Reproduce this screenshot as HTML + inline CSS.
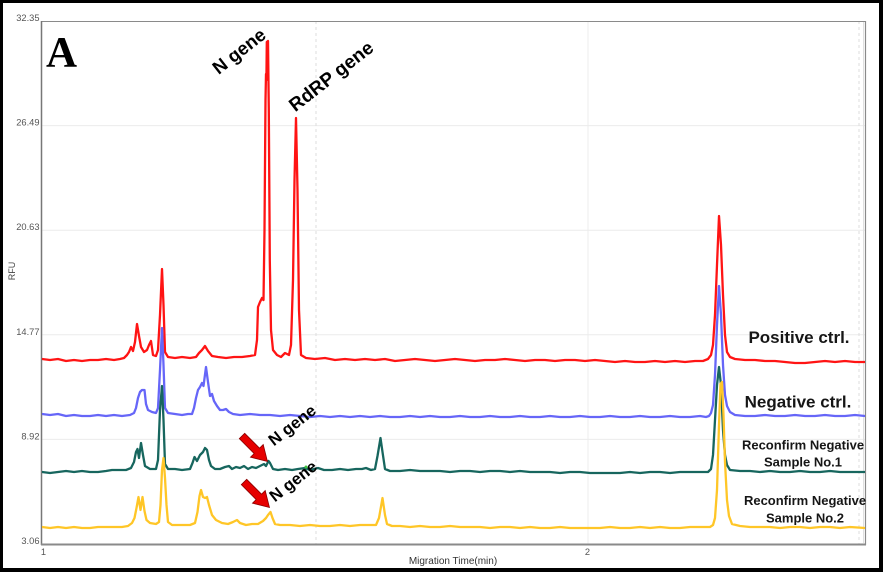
<!DOCTYPE html>
<html><head><meta charset="utf-8"><style>
html,body{margin:0;padding:0;background:#fff;}
svg{display:block;}
</style></head><body>
<svg width="883" height="572" viewBox="0 0 883 572" xmlns="http://www.w3.org/2000/svg">
<rect x="0" y="0" width="883" height="572" fill="#000"/>
<rect x="3" y="3" width="876" height="565" fill="#fff"/>
<defs><clipPath id="pc"><rect x="42" y="21" width="823" height="523"/></clipPath></defs>
<!-- grid -->
<g stroke="#ececec" stroke-width="1">
<line x1="42" y1="125.6" x2="865" y2="125.6"/>
<line x1="42" y1="230.2" x2="865" y2="230.2"/>
<line x1="42" y1="334.8" x2="865" y2="334.8"/>
<line x1="42" y1="439.4" x2="865" y2="439.4"/>
<line x1="588" y1="21" x2="588" y2="544"/>
</g>
<g stroke="#dedede" stroke-width="1" stroke-dasharray="3,3">
<line x1="316" y1="21" x2="316" y2="544"/>
<line x1="859" y1="21" x2="859" y2="544"/>
</g>
<!-- frame -->
<line x1="41" y1="21.5" x2="866" y2="21.5" stroke="#8a8a8a" stroke-width="1"/>
<line x1="865.5" y1="21" x2="865.5" y2="545" stroke="#8a8a8a" stroke-width="1.2"/>
<line x1="863.5" y1="22" x2="863.5" y2="543" stroke="#e0e0e0" stroke-width="1"/>
<line x1="41.5" y1="21" x2="41.5" y2="545" stroke="#777" stroke-width="1.5"/>
<line x1="41" y1="544.5" x2="866" y2="544.5" stroke="#8a8a8a" stroke-width="2"/>
<!-- tick labels -->
<g font-family="Liberation Sans, sans-serif" font-size="9.3" fill="#555" text-anchor="end">
<text x="39.5" y="21">32.35</text>
<text x="39.5" y="125.6">26.49</text>
<text x="39.5" y="230.2">20.63</text>
<text x="39.5" y="334.8">14.77</text>
<text x="39.5" y="439.4">8.92</text>
<text x="39.5" y="544">3.06</text>
</g>
<g font-family="Liberation Sans, sans-serif" font-size="9.3" fill="#555" text-anchor="middle">
<text x="43.5" y="555">1</text>
<text x="587.5" y="555">2</text>
</g>
<text x="453" y="564" font-family="Liberation Sans, sans-serif" font-size="10" fill="#333" text-anchor="middle">Migration Time(min)</text>
<text transform="translate(15,271) rotate(-90)" font-family="Liberation Sans, sans-serif" font-size="9" fill="#444" text-anchor="middle">RFU</text>

<g clip-path="url(#pc)" fill="none" stroke-width="2.3" stroke-linejoin="round" stroke-linecap="round">
<!-- red -->
<path stroke="#ff1414" d="M42,359 L50,360 L58,359 L66,361 L74,360 L82,361 L90,360 L98,360 L106,359 L114,360 L120,359 L124,358 L127,355 L129,352 L131,347 L133,351 L135,342 L137,324 L139,336 L141,347 L144,352 L147,350 L149,345 L151,341 L153,355 L156,356 L158,350 L160,315 L162,269 L163.5,305 L165,352 L168,357 L175,358 L182,357 L190,358 L196,357 L199,353 L202,350 L205,346 L208,351 L212,356 L218,357 L226,358 L234,357 L242,357 L250,356 L255,355 L257,340 L258,307 L260,302 L262,298 L263.5,300 L264.5,230 L265.5,100 L266,74 L266.4,80 L266.8,42 L268,41 L268.8,110 L269.8,260 L271,330 L273,350 L277,355 L281,357 L285,353 L289,355 L291,345 L293,280 L294.5,180 L296,118 L297.5,190 L299,310 L301,355 L306,358 L315,359 L325,358 L335,360 L345,359 L355,360 L365,359 L375,360 L385,359 L395,361 L405,360 L415,359 L425,360 L435,361 L445,360 L455,359 L465,360 L475,361 L485,360 L495,360 L505,359 L515,360 L525,361 L535,360 L545,360 L555,361 L565,360 L575,360 L585,361 L595,360 L605,361 L615,362 L625,361 L635,362 L645,362 L655,361 L665,362 L675,361 L685,362 L695,361 L703,361 L708,359 L711,355 L713,345 L715,315 L717,265 L719,216 L721,245 L723,295 L725,335 L727,352 L730,357 L735,359 L745,360 L755,360 L765,361 L775,361 L785,362 L795,363 L805,363 L815,362 L825,361 L835,362 L845,361 L855,362 L865,362"/>
<!-- blue -->
<path stroke="#6666f8" d="M42,414 L50,415 L58,414 L66,416 L74,415 L82,416 L90,416 L98,415 L106,416 L114,415 L122,416 L130,415 L134,413 L136,408 L138,398 L140,392 L142,390 L144.5,390 L146,404 L148,410 L152,412 L156,413 L158,408 L160,370 L162,328 L163.5,365 L165,408 L168,413 L175,414 L182,415 L188,414 L192,414 L194,408 L196,398 L198,390 L200,387 L202,383 L203.5,386 L206,367 L208,382 L210,396 L212,394 L214,401 L217,406 L220,410 L223,410 L226,409 L229,412 L233,414 L240,415 L250,414 L260,415 L270,415 L280,416 L290,415 L300,416 L310,417 L320,416 L330,417 L340,416 L350,417 L360,416 L370,417 L380,416 L390,417 L400,417 L410,416 L420,417 L430,416 L440,417 L450,417 L460,416 L470,417 L480,417 L490,416 L500,417 L510,417 L520,416 L530,417 L540,417 L550,416 L560,417 L570,417 L580,416 L590,417 L600,417 L610,416 L620,417 L630,417 L640,416 L650,417 L660,417 L670,416 L680,417 L690,417 L700,416 L706,417 L709,416 L711,413 L713,405 L715,375 L717,325 L719,286 L721,315 L723,365 L725,395 L727,406 L730,412 L735,415 L745,416 L755,416 L765,415 L775,416 L785,416 L795,415 L805,416 L815,416 L825,415 L835,416 L845,416 L855,415 L865,416"/>
<!-- teal -->
<path stroke="#17665e" d="M42,472 L50,473 L58,472 L66,471 L74,472 L82,471 L90,472 L98,472 L106,471 L112,470 L120,470 L126,470 L131,468 L134,462 L136,452 L137.5,449 L139,458 L141,443 L143,455 L145,466 L150,469 L156,469 L158,460 L160,410 L162,386 L163.5,420 L165,464 L168,469 L175,469 L182,470 L190,469 L192.5,463 L194.5,457 L197,461 L200,455 L203,452 L205,448 L207,450 L209,460 L211,466 L215,469 L220,469 L225,467 L229,466 L232,469 L236,467 L240,468 L244,466 L248,469 L252,467 L256,468 L260,466 L264,464 L266,466 L268.5,461 L270,463 L273,469 L278,470 L285,469 L292,470 L298,469 L305,468 L310,470 L318,468 L324,470 L332,470 L340,469 L348,470 L356,469 L362,469 L366,468 L371,470 L375,469 L377.5,456 L380.5,438 L382.5,452 L385,469 L390,471 L400,471 L410,470 L420,471 L430,471 L440,471 L450,472 L460,471 L470,471 L480,472 L490,471 L500,471 L510,472 L520,471 L530,472 L540,472 L550,472 L560,473 L570,472 L580,472 L590,473 L600,473 L610,473 L620,473 L630,472 L640,473 L650,472 L660,472 L670,473 L680,472 L690,472 L700,472 L708,472 L711,469 L713,455 L715,420 L717,385 L719,367 L721,385 L723,430 L725,455 L727,465 L730,470 L740,471 L750,471 L760,472 L770,471 L780,472 L790,472 L800,471 L810,472 L820,472 L830,471 L840,472 L850,472 L865,472"/>
<!-- yellow -->
<path stroke="#ffc627" d="M42,527 L50,528 L58,527 L66,528 L74,527 L82,528 L90,528 L98,527 L106,527 L114,527 L122,527 L128,526 L132,523 L134.5,518 L136.5,508 L138.5,497 L140.5,510 L142.5,497 L144.5,511 L146.5,520 L150,523 L156,524 L159,522 L160.5,505 L162,470 L163.5,458 L165,478 L166.5,505 L168,522 L172,525 L180,525 L190,525 L195,523 L197.5,512 L199.5,496 L201,490 L203,497 L205,498 L207,497 L209,505 L212,515 L216,520 L222,523 L228,524 L233,522 L237,520 L240,523 L246,525 L252,524 L258,524 L263,521 L266,518 L268,515 L270.5,512 L272.5,518 L275,524 L280,525 L290,525 L300,526 L310,525 L320,526 L330,526 L340,525 L350,526 L360,525 L370,525 L376,525 L379,518 L382.5,498 L385,515 L387,524 L392,526 L400,526 L410,527 L420,526 L430,527 L440,527 L450,526 L460,527 L470,527 L480,527 L490,528 L500,527 L510,527 L520,528 L530,527 L540,528 L550,528 L560,527 L570,528 L580,528 L590,528 L600,528 L610,527 L620,528 L630,528 L640,527 L650,528 L660,527 L670,528 L680,528 L690,527 L700,527 L710,527 L713,525 L715,518 L717,490 L719,425 L720.5,384 L722,382 L723.5,415 L725,462 L727,500 L729,516 L732,524 L740,526 L750,527 L760,527 L770,527 L780,528 L790,527 L800,527 L810,528 L820,527 L830,527 L840,528 L850,527 L865,528"/>
</g>
<!-- small green artifacts -->
<circle cx="307" cy="418" r="1.5" fill="#3ec43e"/>
<circle cx="306" cy="467" r="1.5" fill="#3ec43e"/>

<!-- panel letter -->
<text x="46" y="66.5" font-family="Liberation Serif, serif" font-weight="bold" font-size="43" fill="#000">A</text>

<!-- rotated gene labels -->
<g font-family="Liberation Sans, sans-serif" font-weight="bold" fill="#000" text-anchor="middle">
<text transform="translate(239,51) rotate(-38)" dy="0.35em" font-size="18.5">N gene</text>
<text transform="translate(331,76) rotate(-38)" dy="0.35em" font-size="19">RdRP gene</text>
<text transform="translate(292,425) rotate(-38)" dy="0.35em" font-size="16.5">N gene</text>
<text transform="translate(293,481) rotate(-38)" dy="0.35em" font-size="16.5">N gene</text>
</g>

<!-- red arrows -->
<g fill="#e60000" stroke="#8a0000" stroke-width="0.8" stroke-linejoin="miter">
<polygon transform="translate(242,436) rotate(45)" points="0,-3.8 21,-3.8 21,-9 36,0 21,9 21,3.8 0,3.8"/>
<polygon transform="translate(244,482) rotate(45)" points="0,-3.8 21,-3.8 21,-9 36,0 21,9 21,3.8 0,3.8"/>
</g>

<!-- right labels -->
<g font-family="Liberation Sans, sans-serif" font-weight="bold" fill="#161616" text-anchor="middle">
<text x="799" y="343" font-size="17">Positive ctrl.</text>
<text x="798" y="407.5" font-size="17">Negative ctrl.</text>
<text x="803" y="449.5" font-size="13">Reconfirm Negative</text>
<text x="803" y="466.5" font-size="13">Sample No.1</text>
<text x="805" y="505" font-size="13">Reconfirm Negative</text>
<text x="805" y="522.5" font-size="13">Sample No.2</text>
</g>
</svg>
</body></html>
